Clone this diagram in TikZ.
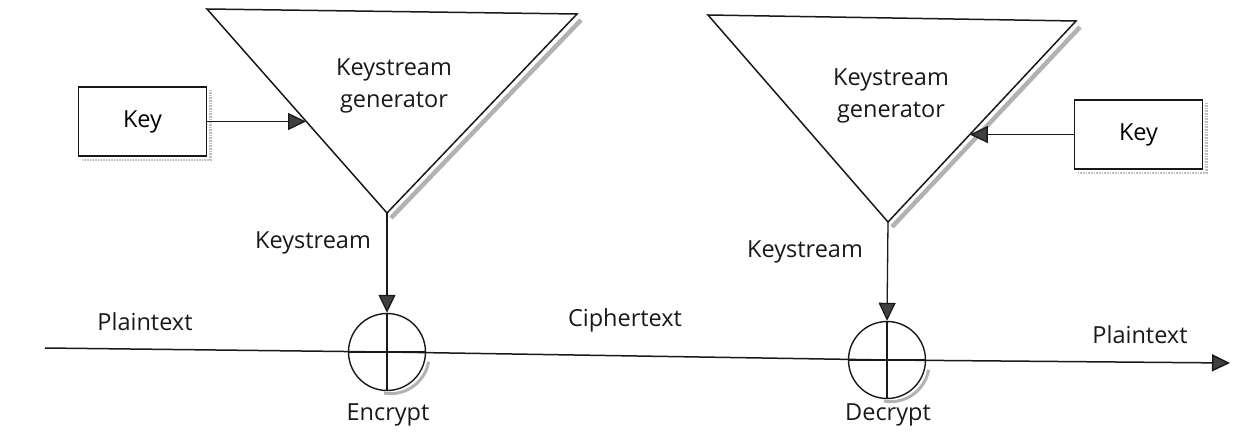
\documentclass[tikz,border=0pt]{standalone}
\usepackage{fontspec}
\setmainfont{Open Sans}
\usetikzlibrary{arrows.meta,calc,positioning}
\pgfdeclarelayer{background}
\pgfsetlayers{background,main}

\tikzset{
  lbl/.style={font=\fontsize{23.5}{32}\selectfont, text=black!90, inner sep=0pt, align=center},
  keybox/.style={draw=black!90, fill=white, line width=1.5pt, minimum width=128pt, minimum height=69pt, inner sep=0pt, font=\fontsize{23.5}{26}\selectfont},
  xorop/.style={draw=black!90, fill=white, circle, minimum size=77pt, inner sep=0pt, line width=1.4pt,
    path picture={\draw[black!90, line width=1.3pt] (path picture bounding box.north) -- (path picture bounding box.south)
      (path picture bounding box.west) -- (path picture bounding box.east);}},
  arr/.style={draw=black!90, line width=1.3pt, -{Triangle[width=17pt,length=18pt,fill=black!75]}},
  gen/.style={draw=black!90, fill=white, line width=1.5pt},
  shade/.style={draw=black!30, line width=4.5pt},
  boxshade/.style={draw=black!25, line width=2.5pt, dash pattern=on 1pt off 0.6pt},
}

\begin{document}
\begin{tikzpicture}[x=1pt,y=-1pt]
\useasboundingbox (0,0) rectangle (1245,436);
%generator 1 p=(387,213)
\coordinate (g1tl) at (207,9);
\coordinate (g1tr) at (577,14);
\coordinate (g1ap) at (387,213);
\begin{pgfonlayer}{background}
\draw[shade] ($(g1tr)+(4,6)$) -- ($(g1ap)+(4,5)$);
\end{pgfonlayer}
\draw[gen] (g1tl) -- (g1tr) -- (g1ap) -- cycle;
\node[lbl] (gen1) at (394,86) {Keystream\\generator};
%key 1
\node[keybox] (key1) at (142.5,121.5) {Key};
\begin{pgfonlayer}{background}
\draw[boxshade] ($(key1.north east)+(3,4)$) |- ($(key1.south west)+(4,3)$);
\end{pgfonlayer}
\coordinate (k1in) at ($(g1tl)!0.55!(g1ap)$);
\draw[arr] (key1.east) -- (key1.east -| k1in);
%encrypt
\node[xorop] (enc) at (387,352) {};
\begin{pgfonlayer}{background}
\draw[shade, line width=3pt] ([shift={(3,3)}]enc.-10) arc[start angle=-10, end angle=-100, radius=38.5pt];
\end{pgfonlayer}
\draw[arr] (g1ap) -- (enc.north);
\node[lbl] (ks1) at (313,243) {Keystream};
\node[lbl] (enclbl) at (388,415) {Encrypt};

%generator 2 p=(888,222)
\coordinate (g2tl) at (708,15);
\coordinate (g2tr) at (1076,21);
\coordinate (g2ap) at (888,222);
\begin{pgfonlayer}{background}
\draw[shade] ($(g2tr)+(4,6)$) -- ($(g2ap)+(4,5)$);
\end{pgfonlayer}
\draw[gen] (g2tl) -- (g2tr) -- (g2ap) -- cycle;
\node[lbl] (gen2) at (891,96) {Keystream\\generator};
%key 2
\node[keybox] (key2) at (1138.5,134.5) {Key};
\begin{pgfonlayer}{background}
\draw[boxshade] ($(key2.north east)+(3,4)$) |- ($(key2.south west)+(4,3)$);
\end{pgfonlayer}
\coordinate (k2in) at ($(g2tr)!0.565!(g2ap)$);
\draw[arr] (key2.west) -- (key2.west -| k2in);
%decrypt
\node[xorop] (dec) at (887,360) {};
\begin{pgfonlayer}{background}
\draw[shade, line width=3pt] ([shift={(3,3)}]dec.-10) arc[start angle=-10, end angle=-100, radius=38.5pt];
\end{pgfonlayer}
\draw[arr] (g2ap) -- (dec.north);
\node[lbl] (ks2) at (805,252) {Keystream};
\node[lbl] (declbl) at (888,415) {Decrypt};

%data line
\coordinate (pin) at (45,348);
\coordinate (pout) at (1230,363);
\draw[black!90, line width=1.5pt] (pin) -- (enc.center) -- (dec.center);
\draw[arr, line width=1.5pt] (dec.center) -- (pout);
\node[lbl] (pt1) at (145,322) {Plaintext};
\node[lbl] (ct) at (625,320) {Ciphertext};
\node[lbl] (pt2) at (1140,335) {Plaintext};
\end{tikzpicture}
\end{document}
